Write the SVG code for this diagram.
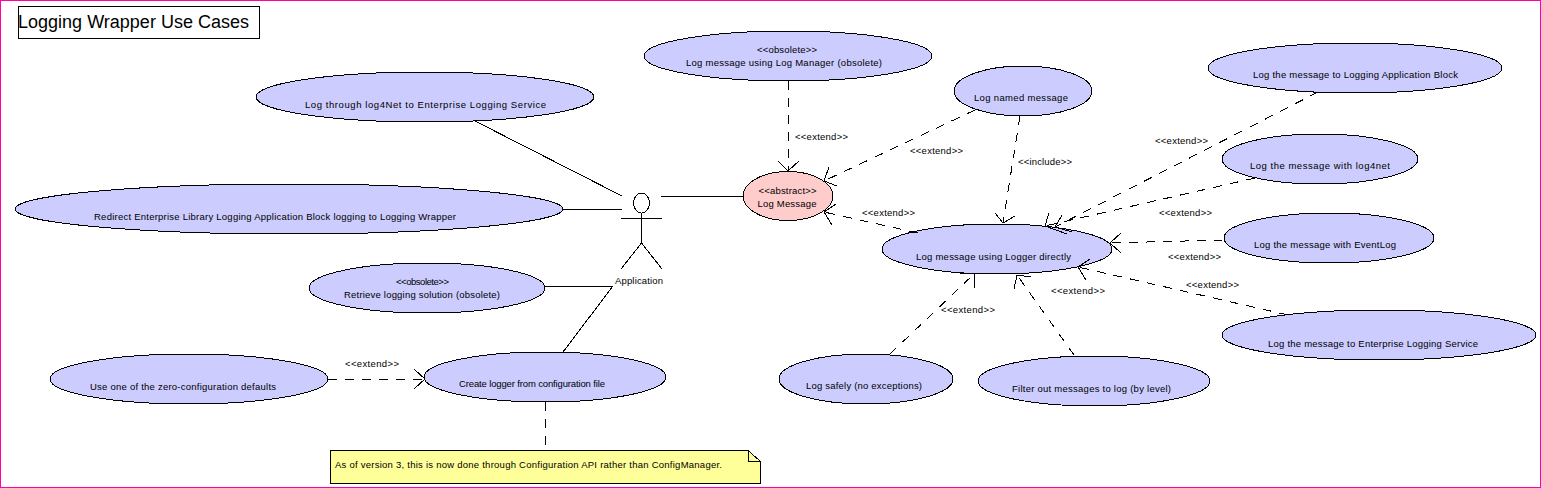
<svg xmlns="http://www.w3.org/2000/svg" width="1541" height="488" viewBox="0 0 1541 488">
<style>
text{font-family:"Liberation Sans",Arial,sans-serif;font-size:9.5px;fill:#000;text-anchor:start}
ellipse,rect,path{shape-rendering:crispEdges}
.u{fill:#ccf;stroke:#000;stroke-width:1}
.l{fill:none;stroke:#000;stroke-width:1}
.d{fill:none;stroke:#000;stroke-width:1;stroke-dasharray:9 8}
.h{fill:none;stroke:#000;stroke-width:1}
</style>
<rect x="0.500" y="0.500" width="1540" height="487" fill="#fff" stroke="#f0a" stroke-width="1"/>
<g id="title"><rect x="18.500" y="6.500" width="241" height="32" fill="#fff" stroke="#000"/><text x="18" y="28" textLength="231" style="font-size:18px">Logging Wrapper Use Cases</text></g>
<g id="uc-log4net"><ellipse class="u" cx="425" cy="97" rx="169" ry="25"/><text x="305" y="108" textLength="241">Log through log4Net to Enterprise Logging Service</text></g>
<g id="uc-redirect"><ellipse class="u" cx="289" cy="209" rx="274" ry="25"/><text x="94" y="220" textLength="362">Redirect Enterprise Library Logging Application Block logging to Logging Wrapper</text></g>
<g id="uc-retrieve"><ellipse class="u" cx="427" cy="288" rx="118" ry="25"/><text x="396" y="285" textLength="53">&lt;&lt;obsolete&gt;&gt;</text><text x="344" y="298" textLength="156">Retrieve logging solution (obsolete)</text></g>
<g id="uc-zero"><ellipse class="u" cx="189" cy="379" rx="139" ry="25"/><text x="90" y="390" textLength="186">Use one of the zero-configuration defaults</text></g>
<g id="uc-create"><ellipse class="u" cx="545" cy="377" rx="121" ry="25"/><text x="459" y="387" textLength="146">Create logger from configuration file</text></g>
<g id="uc-manager"><ellipse class="u" cx="788" cy="56" rx="144" ry="25"/><text x="757" y="53" textLength="60">&lt;&lt;obsolete&gt;&gt;</text><text x="686" y="66" textLength="196">Log message using Log Manager (obsolete)</text></g>
<g id="uc-abstract"><ellipse cx="788" cy="196" rx="45" ry="24.500" fill="#fcc" stroke="#000"/><text x="758.500" y="194" textLength="58">&lt;&lt;abstract&gt;&gt;</text><text x="757.500" y="207" textLength="59">Log Message</text></g>
<g id="uc-named"><ellipse class="u" cx="1023" cy="91" rx="69" ry="25"/><text x="974" y="101" textLength="94">Log named message</text></g>
<g id="uc-logger"><ellipse class="u" cx="997" cy="249" rx="115" ry="25"/><text x="916" y="260" textLength="155">Log message using Logger directly</text></g>
<g id="uc-safe"><ellipse class="u" cx="866" cy="379" rx="87" ry="25"/><text x="806" y="389" textLength="116">Log safely (no exceptions)</text></g>
<g id="uc-filter"><ellipse class="u" cx="1094" cy="381" rx="116" ry="25"/><text x="1012" y="392" textLength="159">Filter out messages to log (by level)</text></g>
<g id="uc-block"><ellipse class="u" cx="1355" cy="68" rx="147" ry="25"/><text x="1253" y="78" textLength="205">Log the message to Logging Application Block</text></g>
<g id="uc-l4n"><ellipse class="u" cx="1320" cy="159" rx="98" ry="25"/><text x="1250" y="169" textLength="140">Log the message with log4net</text></g>
<g id="uc-eventlog"><ellipse class="u" cx="1329" cy="238" rx="105" ry="25"/><text x="1254" y="248" textLength="142">Log the message with EventLog</text></g>
<g id="uc-els"><ellipse class="u" cx="1379" cy="335" rx="157" ry="25"/><text x="1268" y="347" textLength="210">Log the message to Enterprise Logging Service</text></g>
<g id="connectors">
<path class="l" d="M475 121L622 196M563 209H622M545 286H613M563 352L613 286M661 196H743"/>
<path class="d" d="M788 81V171M975 110L824 181M1020 116L1003 223M1318 92L1055 227M1255 178L1045 226M1223 240L1110 243M1288 315L1078 267M918 233L824 212M890 354L974 274M1074 355L1017 275M328 379H424M545 402V450"/>
<path class="h" d="M778 161L788 171L799 161M829 167L824 181L837 186M836 204L824 212L832 225M995 213L1003 223L1015 216M1049 213L1045 226L1067 234M1062 215L1055 227L1072 232M1121 233L1110 243L1121 253M1090 259L1078 267L1086 280M974 288V274L960 273M1014 289L1017 275L1031 277M414 369L425 379L414 389"/>
</g>
<g id="actor">
<ellipse cx="641.500" cy="203" rx="8" ry="10" fill="#fff" stroke="#000"/>
<path class="l" d="M641.500 213V243M621 218H662M641.500 243L621 269M641.500 243L662 269"/>
<text x="615" y="284" textLength="48">Application</text>
</g>
<g id="note">
<path d="M330.500 450.500H748L760 461V483.500H330.500Z" fill="#ff9" stroke="#000"/>
<path class="l" d="M748 450.500V461H760"/>
<text x="335" y="468" textLength="387">As of version 3, this is now done through Configuration API rather than ConfigManager.</text>
</g>
<g id="labels">
<text x="795" y="140" textLength="53">&lt;&lt;extend&gt;&gt;</text>
<text x="910" y="154" textLength="53">&lt;&lt;extend&gt;&gt;</text>
<text x="1018" y="165" textLength="54">&lt;&lt;include&gt;&gt;</text>
<text x="1155" y="144" textLength="53">&lt;&lt;extend&gt;&gt;</text>
<text x="1159" y="216" textLength="53">&lt;&lt;extend&gt;&gt;</text>
<text x="1168" y="260" textLength="53">&lt;&lt;extend&gt;&gt;</text>
<text x="1186" y="288" textLength="53">&lt;&lt;extend&gt;&gt;</text>
<text x="1051" y="294" textLength="54">&lt;&lt;extend&gt;&gt;</text>
<text x="941" y="313" textLength="54">&lt;&lt;extend&gt;&gt;</text>
<text x="862" y="216" textLength="53">&lt;&lt;extend&gt;&gt;</text>
<text x="345" y="367" textLength="54">&lt;&lt;extend&gt;&gt;</text>
</g>
</svg>
